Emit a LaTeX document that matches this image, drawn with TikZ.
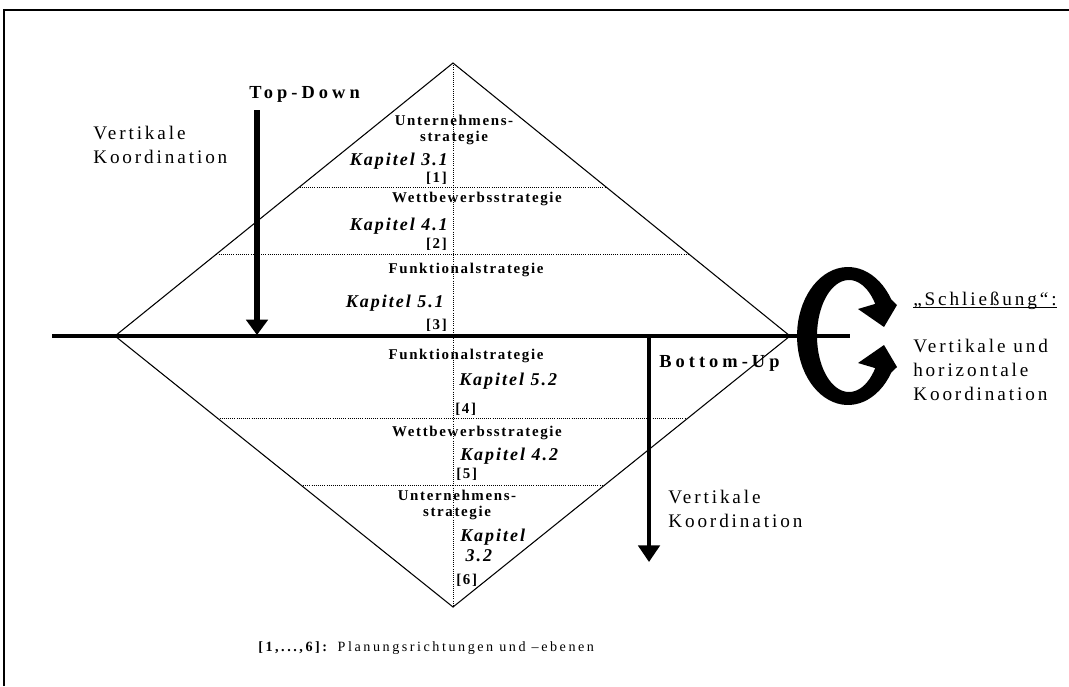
\documentclass[tikz,border=0pt]{standalone}
\usepackage{fontspec}
\setmainfont{Liberation Serif}
\newfontfamily\spacedfont[LetterSpace=15]{Liberation Serif}
\newfontfamily\boldfont[LetterSpace=11]{Liberation Serif}
\newfontfamily\widefont[LetterSpace=22]{Liberation Serif}
\newfontfamily\legendfont[LetterSpace=18]{Liberation Serif}
\usepackage{tikz}
\usetikzlibrary{arrows.meta, calc}

\begin{document}
\begin{tikzpicture}[x=0.75pt, y=-0.75pt,
  tierlabel/.style={font=\boldfont\bfseries\fontsize{11.2}{12}\selectfont, inner sep=0pt, anchor=base},
  chapter/.style={font=\boldfont\bfseries\itshape\fontsize{13.5}{15.5}\selectfont, inner sep=0pt},
  ranktag/.style={font=\boldfont\bfseries\fontsize{11.2}{12}\selectfont, inner sep=0pt},
  remark/.style={font=\spacedfont\fontsize{14.4}{17.5}\selectfont, inner sep=0pt, anchor=base west, align=left},
  flowlabel/.style={font=\widefont\bfseries\fontsize{13.8}{16}\selectfont, inner sep=0pt, anchor=base west},
  dotline/.style={densely dotted, line width=0.6pt},
]
  \useasboundingbox (0,0) rectangle (1069,686);

  % Frame
  \draw[line width=1.4pt] (4,686) -- (4,10) -- (1069,10);

  % Diamond
  \coordinate (top) at (453,63);
  \coordinate (lft) at (115,336);
  \coordinate (rgt) at (790,336);
  \coordinate (bot) at (453,607);
  \draw[line width=0.8pt] (top) -- (rgt) -- (bot) -- (lft) -- cycle;
  \draw[dotline] (top) -- (bot);
  \foreach \t in {0.454, 0.70}
    \draw[dotline] ($(top)!\t!(lft)$) -- ($(top)!\t!(rgt)$);
  \foreach \t in {0.697, 0.45}
    \draw[dotline] ($(bot)!\t!(lft)$) -- ($(bot)!\t!(rgt)$);

  % Closing loop
  \fill (897,305)
    -- plot[domain=32:328, samples=60, variable=\a] ({848+51*cos(\a)}, {336-69*sin(\a)})
    -- (897,367) -- (884,345) -- (858,363)
    -- plot[domain=-35:-325, samples=60, variable=\a] ({849+32*cos(\a)}, {336-56*sin(\a)})
    -- (858,309) -- (884,327) -- cycle;

  % Axis
  \coordinate (axisL) at (52,336);
  \coordinate (axisR) at (850,336);
  \draw[line width=3.3pt] (axisL) -- (axisR);

  % Arrows
  \coordinate (tdfrom) at (257,110);
  \coordinate (tdto) at (257,335);
  \draw[-{Triangle[width=16pt,length=11.5pt]}, line width=4.2pt] (tdfrom) -- (tdto);
  \coordinate (bufrom) at (649,336);
  \coordinate (buto) at (649,562);
  \draw[-{Triangle[width=16pt,length=12.5pt]}, line width=3pt] (bufrom) -- (buto);

  % Labels
  \node[flowlabel] (topdown) at (249,98) {Top-Down};
  \node[flowlabel] (bottomup) at (659,367) {Bottom-Up};
  \node[remark] (vkleft) at (93,163) {Vertikale\\Koordination};
  \node[remark] (vkright) at (668,527) {Vertikale\\Koordination};
  \node[remark] (schl) at (913,305) {„Schließung“:};
  \draw[line width=1.1pt] ([yshift=-2pt]schl.base west) -- ([yshift=-2pt]schl.base east);
  \node[remark, font=\spacedfont\fontsize{14.4}{18}\selectfont] (vhk) at (913,400.7) {Vertikale und\\horizontale\\Koordination};

  % Upper half
  \node[tierlabel, align=center] (ust1) at (454,141.7) {Unternehmens-\\strategie};
  \node[chapter, anchor=base east] (kap31) at (448,165) {Kapitel 3.1};
  \node[ranktag, anchor=base east] (r1) at (447,182) {[1]};
  \node[tierlabel] (wst1) at (477,202.7) {Wettbewerbsstrategie};
  \node[chapter, anchor=base east] (kap41) at (448,230) {Kapitel 4.1};
  \node[ranktag, anchor=base east] (r2) at (447,248) {[2]};
  \node[tierlabel] (fst1) at (466,273) {Funktionalstrategie};
  \node[chapter, anchor=base east] (kap51) at (444,307.7) {Kapitel 5.1};
  \node[ranktag, anchor=base east] (r3) at (447,329) {[3]};

  % Lower half
  \node[tierlabel] (fst2) at (466,359) {Funktionalstrategie};
  \node[chapter, anchor=base west] (kap52) at (459,385) {Kapitel 5.2};
  \node[ranktag, anchor=base west] (r4) at (455,413) {[4]};
  \node[tierlabel] (wst2) at (477,436.7) {Wettbewerbsstrategie};
  \node[chapter, anchor=base west] (kap42) at (460,460) {Kapitel 4.2};
  \node[ranktag, anchor=base west] (r5) at (456,478) {[5]};
  \node[tierlabel, align=center] (ust2) at (457,516) {Unternehmens-\\strategie};
  \node[chapter, anchor=base west, align=left] (kap32) at (460,561.7) {Kapitel\\\hspace*{4pt}3.2};
  \node[ranktag, anchor=base west] (r6) at (456,584) {[6]};

  % Legend
  \node[font=\legendfont\fontsize{10.6}{12}\selectfont, inner sep=0pt, anchor=base west] (legend) at (258,651) {\textbf{[1,...,6]:} Planungsrichtungen und –ebenen};
\end{tikzpicture}
\end{document}
